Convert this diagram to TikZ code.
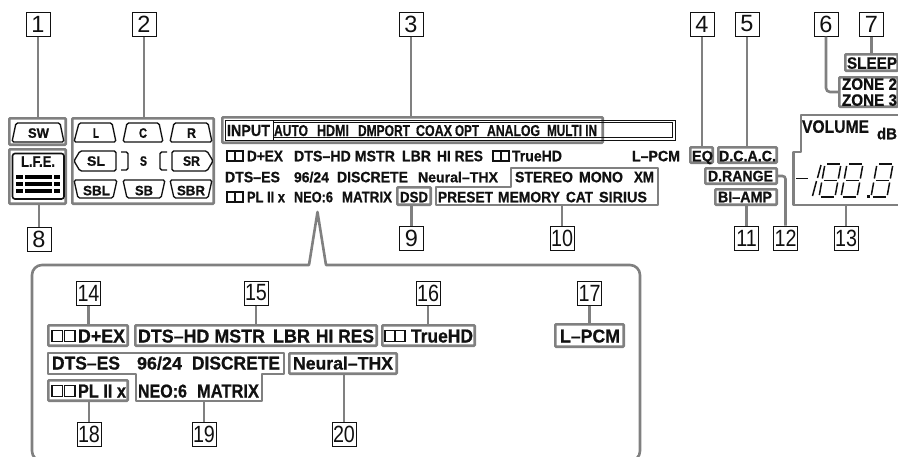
\documentclass[tikz,border=0pt]{standalone}
\usepackage{fontspec}
\usepackage{graphicx}
\setmainfont{Liberation Sans}[BoldFeatures={FakeBold=0.7}]
\usetikzlibrary{fit}
\definecolor{conn}{HTML}{808080}
\definecolor{ink}{HTML}{111111}
\newcounter{labc}
\tikzset{
  lab/.style={inner sep=0pt,outer sep=0pt,anchor=base west,text=ink,font=\bfseries},
  numbox/.style={draw=ink,line width=1pt,minimum width=24pt,minimum height=24pt,inner sep=0pt,fill=white,font=\fontsize{23.5}{23.5}\selectfont,text=ink},
  gbox/.style={draw=conn,line width=2.6pt,inner sep=0pt,rounded corners=0.8pt},
  gline/.style={draw=conn,line width=2.6pt},
  gpoly/.style={draw=conn,line width=2.6pt,line join=round},
  icon/.style={draw=ink,line width=1.35pt,rounded corners=1.6pt},
  dolbyb/.style={draw=ink,line width=1.05pt},
  seg/.style={draw=ink,line width=1.5pt},
  lfebar/.style={draw=black,line width=3.3pt}
}
\newcommand{\lbl}[5]{\stepcounter{labc}\pgfmathsetlengthmacro\lblw{#3-#2}\node[lab] (t\thelabc) at ({#2},{#4+#5/2}) {\resizebox{\lblw}{#5pt}{#1}};}
\newcommand{\gb}[5]{\node[gbox,fit={({#2+1.3},{#3+1.3})({#4-1.3},{#5-1.3})}] (#1) {};}
\newcommand{\nb}[3]{\node[numbox] (n#1) at (#2,#3) {#1};}
\newcommand{\nbb}[3]{\node[numbox] (n#1) at (#2,#3) {\scalebox{0.84}[1]{#1}};}
\newcommand{\dolby}[4]{\pgfmathsetmacro\dw{(#2-#1-1.2)/2}\draw[dolbyb] (#1,{#3-#4/2}) rectangle ({#1+\dw},{#3+#4/2}); \draw[dolbyb] ({#2-\dw},{#3-#4/2}) rectangle (#2,{#3+#4/2});}
\newcommand{\eightseg}[1]{\begin{scope}[shift={(#1,164)},x={(16pt,0pt)},y={(-6pt,-33pt)}]
\draw[seg] (0.12,0)--(0.92,0); \draw[seg] (0.12,0.5)--(0.92,0.5); \draw[seg] (0.12,1)--(0.92,1);
\draw[seg] (0,0.06)--(0,0.44); \draw[seg] (0,0.56)--(0,0.94);
\draw[seg] (1,0.06)--(1,0.44); \draw[seg] (1,0.56)--(1,0.94);
\end{scope}}
\begin{document}
\begin{tikzpicture}[x=1pt,y=-1pt]
\useasboundingbox (0,0) rectangle (898,456);
\clip (0,0) rectangle (898,456);
% callout
\draw[gpoly] (317.5,212) -- (309,265) [rounded corners=10pt] -- (32,265) -- (32,461) -- (640,461) -- (640,265) [sharp corners] -- (326,265) -- cycle;
% number boxes top
\nb{1}{38}{24} \nb{2}{144}{24} \nb{3}{411}{24} \nb{4}{702}{24} \nb{5}{747}{24} \nb{6}{826}{24} \nb{7}{871.5}{24}
\nb{8}{39}{239} \nb{9}{411.5}{238} \nbb{10}{562}{238} \nbb{11}{746.5}{238} \nbb{12}{785.5}{238} \nbb{13}{846}{238}
\nbb{14}{88.5}{293} \nbb{15}{256}{293} \nbb{16}{428}{293} \nbb{17}{589.5}{293}
\nbb{18}{89}{434} \nbb{19}{204}{434} \nbb{20}{344}{434}
% gray boxes
\gb{bsw}{8}{117}{67}{146} \gb{blfe}{8}{148}{67}{205} \gb{bch}{71}{117}{215}{205}
\gb{bin}{221}{116}{604}{144}
\gb{bdsd}{396}{186}{432}{206}
\gb{beq}{689}{146}{714}{164} \gb{bdc}{717}{146}{778}{164} \gb{bdr}{704}{167}{778}{185} \gb{bbi}{714}{188}{778}{206}
\gb{bsl}{844}{53}{899}{72} \gb{bzo}{838}{76}{899}{108}
\gb{b14}{47}{324}{129}{347} \gb{b15}{134}{324}{378}{347} \gb{b16}{381}{324}{476}{347} \gb{b17}{554}{323}{625}{348}
\gb{b18}{47}{379}{129}{402} \gb{b20}{288}{352}{398}{375}
% polygons
\draw[gpoly] (436,187) -- (511,187) -- (511,168) -- (658,168) -- (658,205) -- (436,205) -- cycle;
\coordinate (p10) at (562,205);
\draw[gpoly] (48,353) -- (284,353) -- (284,374) -- (262,374) -- (262,401) -- (136,401) -- (136,374) -- (48,374) -- cycle;
\coordinate (p19) at (204,401);
\draw[gpoly] (900,115) -- (801,115) -- (801,152) -- (793.5,152) -- (793.5,205) -- (900,205);
\coordinate (p13) at (846,205);
% connectors
\draw[gline] (n1.south) -- (n1.south |- bsw.north);
\draw[gline] (n2.south) -- (n2.south |- bch.north);
\draw[gline] (n3.south) -- (n3.south |- bin.north);
\draw[gline] (n4.south) -- (n4.south |- beq.north);
\draw[gline] (n5.south) -- (n5.south |- bdc.north);
\draw[gline,rounded corners=4pt] (n6.south) -- (n6.south |- bzo.west) -- (bzo.west);
\draw[gline] (n7.south) -- (n7.south |- bsl.north);
\draw[gline] (n8.north) -- (n8.north |- blfe.south);
\draw[gline] (n9.north) -- (n9.north |- bdsd.south);
\draw[gline] (n10.north) -- (p10);
\draw[gline] (n11.north) -- (n11.north |- bbi.south);
\draw[gline,rounded corners=3pt] (bdr.east) -- (n12.north |- bdr.east) -- (n12.north);
\draw[gline] (n13.north) -- (p13);
\draw[gline] (n14.south) -- (n14.south |- b14.north);
\draw[gline] (n15.south) -- (n15.south |- b15.north);
\draw[gline] (n16.south) -- (n16.south |- b16.north);
\draw[gline] (n17.south) -- (n17.south |- b17.north);
\draw[gline] (n18.north) -- (n18.north |- b18.south);
\draw[gline] (n19.north) -- (p19);
\draw[gline] (n20.north) -- (n20.north |- b20.south);
% channel icons
\draw[icon] (12,142) -- (16,123) -- (60,123) -- (64,142) -- cycle;
\draw[icon] (74,142) -- (79,123) -- (112,123) -- (116,142) -- cycle;
\draw[icon] (123,142) -- (127,123) -- (159,123) -- (163,142) -- cycle;
\draw[icon] (170,142) -- (174,123) -- (208,123) -- (212,142) -- cycle;
\draw[icon] (74,161) -- (80,151) -- (116,151) -- (116,171) -- (80,171) -- cycle;
\draw[icon] (213,161) -- (207,151) -- (172,151) -- (172,171) -- (207,171) -- cycle;
\draw[icon] (121,152) -- (128,152) -- (128,170) -- (121,170);
\draw[icon] (167,152) -- (160,152) -- (160,170) -- (167,170);
\draw[icon] (74,180) -- (117,180) -- (113,198) -- (78,198) -- cycle;
\draw[icon] (123,180) -- (165,180) -- (161,198) -- (127,198) -- cycle;
\draw[icon] (170,180) -- (212,180) -- (208,198) -- (174,198) -- cycle;
\draw[draw=ink,line width=1.6pt,rounded corners=2.5pt] (12.5,153.5) rectangle (64,199);
\foreach \yy in {177,184,191}{
  \draw[lfebar] (16,\yy) -- (23,\yy);
  \draw[lfebar] (25,\yy) -- (52,\yy);
  \draw[lfebar] (54,\yy) -- (60,\yy);
}
\lbl{SW}{28}{49}{133}{9.5}
\lbl{L.F.E.}{21}{55}{161.5}{10.5}
\lbl{L}{93}{99}{133}{9.5}
\lbl{C}{139}{147}{133}{9.5}
\lbl{R}{187}{196}{133}{9.5}
\lbl{SL}{87}{105}{161}{9.5}
\lbl{S}{140}{147}{161}{9.5}
\lbl{SR}{183}{200}{161}{9.5}
\lbl{SBL}{83}{110}{190.5}{9.5}
\lbl{SB}{135}{153}{190.5}{9.5}
\lbl{SBR}{177}{205}{190.5}{9.5}
% input strip
\draw[draw=ink,line width=0.9pt] (225,120) rectangle (675,140);
\draw[draw=ink,line width=0.9pt] (273,122.5) rectangle (672.5,137.5);
\draw[draw=ink,line width=0.9pt] (273,120) -- (273,140);
\lbl{INPUT}{227}{270}{130.5}{11}
\lbl{AUTO}{274}{308}{130.5}{11}
\lbl{HDMI}{317}{349}{130.5}{11}
\lbl{DMPORT}{358}{410}{130.5}{11}
\lbl{COAX}{416}{452}{130.5}{11}
\lbl{OPT}{455}{479}{130.5}{11}
\lbl{ANALOG}{487}{540}{130.5}{11}
\lbl{MULTI IN}{547}{597}{130.5}{11}
% rows
\dolby{227}{243}{156}{10}
\lbl{D+EX}{247}{283}{156}{10.5}
\lbl{DTS–HD MSTR}{294}{395}{156}{10.5}
\lbl{LBR}{402}{431}{156}{10.5}
\lbl{HI RES}{437}{483}{156}{10.5}
\dolby{493}{509}{156}{10}
\lbl{TrueHD}{512}{562}{156}{10.5}
\lbl{L–PCM}{632}{680}{156}{10.5}
\lbl{DTS–ES}{225}{280}{177}{10.5}
\lbl{96/24}{294}{329}{177}{10.5}
\lbl{DISCRETE}{337}{408}{177}{10.5}
\lbl{Neural–THX}{418}{498}{177}{10.5}
\lbl{STEREO}{515}{573}{177}{10.5}
\lbl{MONO}{579}{623}{177}{10.5}
\lbl{XM}{634}{654}{177}{10.5}
\dolby{227}{243}{197}{10}
\lbl{PL II x}{247}{285}{197}{10.5}
\lbl{NEO:6}{294}{333}{197}{10.5}
\lbl{MATRIX}{342}{392}{197}{10.5}
\lbl{DSD}{400}{428}{197}{10.5}
\lbl{PRESET}{438}{493}{197}{10.5}
\lbl{MEMORY}{498}{560}{197}{10.5}
\lbl{CAT}{566}{593}{197}{10.5}
\lbl{SIRIUS}{599}{647}{197}{10.5}
% right cluster
\lbl{SLEEP}{847}{897}{63}{11.5}
\lbl{ZONE 2}{842}{897}{84}{11.5}
\lbl{ZONE 3}{842}{897}{100}{11.5}
\lbl{EQ}{692}{713}{156}{10.5}
\lbl{D.C.A.C.}{719}{776}{156}{10.5}
\lbl{D.RANGE}{708}{773}{176}{10.5}
\lbl{BI–AMP}{718}{772}{197}{10.5}
\lbl{VOLUME}{802}{869}{126.5}{12.5}
\lbl{dB}{877}{897}{133.5}{11.5}
% seven-segment readout
\draw[seg,line width=1.8pt] (796,178.5) -- (808,178.5);
\draw[seg] (821,165) -- (817.5,178); \draw[seg] (816.5,181) -- (812.5,196);
\eightseg{825}
\eightseg{847}
\eightseg{877}
\fill[ink] (866.5,194.5) rectangle (869.5,197.5);
% detail texts
\dolby{52}{75}{336}{11.5}
\lbl{D+EX}{78}{125}{336}{13}
\lbl{DTS–HD MSTR}{138}{265}{336}{13}
\lbl{LBR}{273}{310}{336}{13}
\lbl{HI RES}{316}{374}{336}{13}
\dolby{385}{405}{336}{11.5}
\lbl{TrueHD}{411}{473}{336}{13}
\lbl{L–PCM}{560}{620}{336}{13}
\lbl{DTS–ES}{52}{120}{363}{13}
\lbl{96/24}{137}{182}{363}{13}
\lbl{DISCRETE}{192}{280}{363}{13}
\lbl{Neural–THX}{293}{393}{363}{13}
\dolby{52}{75}{391}{11.5}
\lbl{PL II x}{78}{126}{391}{13}
\lbl{NEO:6}{138}{187}{391}{13}
\lbl{MATRIX}{197}{259}{391}{13}
\end{tikzpicture}
\end{document}
